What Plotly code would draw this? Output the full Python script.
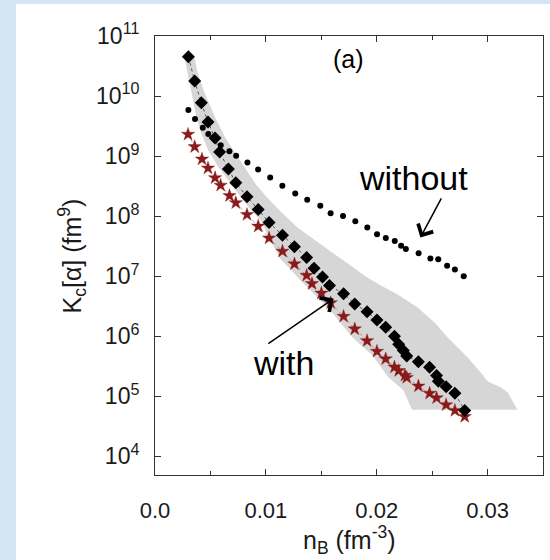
import plotly.graph_objects as go

# ---- data ----
nb_with = [0.00301, 0.00358, 0.00418, 0.00478, 0.00542, 0.00583, 0.00662, 0.00729, 0.0083, 0.00931,
           0.01029, 0.0115, 0.01258, 0.01368, 0.01435, 0.01511, 0.01574, 0.01701, 0.01802, 0.01913,
           0.02002, 0.02081, 0.0216, 0.02198, 0.0224, 0.02271, 0.02376, 0.02477, 0.0254, 0.02556,
           0.02626, 0.02705, 0.02794]
k_with = [4.5e10, 1.78e10, 7.7e9, 3.7e9, 2.0e9, 1.17e9, 6.1e8, 3.6e8, 2.1e8, 1.29e8,
          7.85e7, 4.8e7, 3.1e7, 2.05e7, 1.36e7, 9.7e6, 7.0e6, 5.1e6, 3.45e6, 2.55e6,
          1.87e6, 1.42e6, 1.0e6, 7.4e5, 5.8e5, 4.7e5, 3.76e5, 3.06e5, 2.23e5, 1.79e5,
          1.44e5, 1.12e5, 5.8e4]

nb_star = [0.00298, 0.00358, 0.00424, 0.00478, 0.00542, 0.00592, 0.00672, 0.00729, 0.0083, 0.00931,
           0.01029, 0.0115, 0.01258, 0.01368, 0.01416, 0.01501, 0.01585, 0.01701, 0.01802, 0.01913,
           0.02002, 0.02081, 0.0216, 0.02198, 0.02255, 0.02271, 0.02376, 0.02477, 0.0254, 0.02626,
           0.02705, 0.02794]
k_star = [2.3e9, 1.43e9, 8.9e8, 6.3e8, 4.35e8, 3.26e8, 2.19e8, 1.67e8, 1.06e8, 6.8e7,
          4.3e7, 2.6e7, 1.6e7, 1.03e7, 7.5e6, 5.2e6, 3.6e6, 2.14e6, 1.32e6, 8.4e5,
          5.6e5, 4.2e5, 3.06e5, 2.67e5, 2.23e5, 2.05e5, 1.48e5, 1.12e5, 9.4e4, 7.2e4,
          5.8e4, 4.6e4]

nb_without = [0.00301, 0.00361, 0.00431, 0.00481, 0.00542, 0.00593, 0.00671, 0.00732, 0.00834, 0.0093,
              0.01039, 0.01149, 0.01265, 0.01373, 0.01491, 0.01584, 0.01696, 0.01807, 0.01915, 0.02003,
              0.02082, 0.02163, 0.0222, 0.02263, 0.02378, 0.02484, 0.02555, 0.02635, 0.02705, 0.02785]
k_without = [5.85e9, 4.14e9, 2.96e9, 2.33e9, 1.85e9, 1.52e9, 1.21e9, 1.01e9, 7.85e8, 6.0e8,
             4.4e8, 3.2e8, 2.39e8, 1.87e8, 1.49e8, 1.12e8, 1.01e8, 8.2e7, 6.5e7, 4.98e7,
             4.34e7, 3.86e7, 3.22e7, 2.84e7, 2.42e7, 1.97e7, 1.92e7, 1.5e7, 1.3e7, 1.0e7]

# uncertainty band: upper edge (left to right) then lower edge (right to left)
band_x = [0.00262, 0.00352, 0.00385, 0.00455, 0.00545, 0.00635, 0.00735, 0.00825, 0.00915, 0.01015,
          0.01138, 0.01283, 0.01418, 0.01581, 0.01762, 0.01897, 0.02033, 0.02186, 0.02367, 0.02529,
          0.02638, 0.02728, 0.02827, 0.02936, 0.02999, 0.03117, 0.0318, 0.0327,
          0.02319, 0.0224, 0.02105, 0.0196, 0.0178, 0.01581, 0.0134, 0.01129, 0.01003, 0.00967,
          0.00867, 0.00768, 0.00659, 0.0056, 0.00479, 0.00416, 0.0037, 0.00334, 0.00298, 0.00262]
band_k = [4.82e10, 4.82e10, 2.42e10, 1.04e10, 4.3e9, 2.0e9, 1.04e9, 5.85e8, 3.29e8, 2.0e8,
          1.17e8, 6.56e7, 4.3e7, 2.61e7, 1.52e7, 1.0e7, 7.08e6, 5.0e6, 3.04e6, 1.65e6,
          9.6e5, 6.56e5, 4.3e5, 2.51e5, 1.78e5, 1.41e5, 1.17e5, 6.0e4,
          6.0e4, 1.26e5, 2.07e5, 4.82e5, 9.6e5, 2.71e6, 7.55e6, 1.97e7, 5.41e7, 7.94e7,
          1.26e8, 2.15e8, 3.98e8, 7.08e8, 1.26e9, 2.42e9, 4.82e9, 1.04e10, 2.24e10, 4.82e10]

x_tickvals = [0.0, 0.01, 0.02, 0.03]
x_ticktext = ["0.0", "0.01", "0.02", "0.03"]
x_minor = [0.005, 0.015, 0.025]
y_tickvals = [1e4, 1e5, 1e6, 1e7, 1e8, 1e9, 1e10, 1e11]
y_ticktext = ["10<sup>4</sup>", "10<sup>5</sup>", "10<sup>6</sup>", "10<sup>7</sup>",
              "10<sup>8</sup>", "10<sup>9</sup>", "10<sup>10</sup>", "10<sup>11</sup>"]

FONT = "Liberation Sans, Arial, sans-serif"
INK = "#1a1a1a"

fig = go.Figure()
fig.add_trace(go.Scatter(x=band_x, y=band_k, mode="lines", fill="toself",
                         fillcolor="#d6d6d6", line=dict(width=0), hoverinfo="skip"))
fig.add_trace(go.Scatter(x=nb_without, y=k_without, mode="markers",
                         marker=dict(symbol="circle", size=6, color="black")))
fig.add_trace(go.Scatter(x=nb_star, y=k_star, mode="lines+markers",
                         line=dict(color="#c07070", width=0.7, dash="dot"),
                         marker=dict(symbol="star", size=10, color="#8a1a1a",
                                     line=dict(width=0.4, color="#8a1a1a"))))
fig.add_trace(go.Scatter(x=nb_with, y=k_with, mode="lines+markers",
                         line=dict(color="#555555", width=1, dash="dot"),
                         marker=dict(symbol="diamond", size=10, color="black")))

# white panel over the bluish page
fig.add_shape(type="rect", xref="paper", yref="paper", x0=-0.3582, x1=1.02, y0=-0.1936, y1=1.0729,
              fillcolor="white", line=dict(width=0), layer="below")

ann_font = dict(family=FONT, size=34, color="black")
fig.add_annotation(x=0.01747, y=10.625, text="(a)", showarrow=False,
                   font=dict(family=FONT, size=25, color="black"))
fig.add_annotation(x=0.02334, y=8.628, text="without", showarrow=False, font=ann_font)
fig.add_annotation(x=0.01156, y=5.55, text="with", showarrow=False, font=ann_font)
fig.add_annotation(x=0.02394, y=7.645, ax=0.0259, ay=8.322, axref="x", ayref="y", text="",
                   showarrow=True, arrowhead=4, arrowsize=2.2, arrowwidth=1.5, arrowcolor="black")
fig.add_annotation(x=0.01611, y=6.628, ax=0.01009, ay=5.862, axref="x", ayref="y", text="",
                   showarrow=True, arrowhead=4, arrowsize=2.2, arrowwidth=1.5, arrowcolor="black")

# axis titles
fig.add_annotation(xref="paper", yref="paper", x=0.5, y=-0.148, yanchor="middle",
                   text="n<sub>B</sub> (fm<sup>-3</sup>)", showarrow=False,
                   font=dict(family=FONT, size=25, color=INK))
fig.add_annotation(xref="paper", yref="paper", x=-0.214, y=0.5, xanchor="center", textangle=-90,
                   text="K<sub>c</sub>[α] (fm<sup>9</sup>)", showarrow=False,
                   font=dict(family=FONT, size=25, color=INK))

fig.update_layout(
    width=550, height=560,
    margin=dict(l=155, r=7, t=36, b=85),
    paper_bgcolor="#d5e5f4", plot_bgcolor="white",
    showlegend=False,
    font=dict(family=FONT, color=INK),
)
fig.update_xaxes(range=[0, 0.035], showline=True, linecolor="#333333", linewidth=1, mirror="ticks",
                 ticks="inside", ticklen=6, tickcolor="#333333", showgrid=False, zeroline=False,
                 tickvals=x_tickvals, ticktext=x_ticktext, tickfont=dict(size=22, color=INK),
                 ticklabelstandoff=16,
                 minor=dict(tickvals=x_minor, ticks="inside", ticklen=4, tickcolor="#333333"))
fig.update_yaxes(type="log", range=[3.69, 11], showline=True, linecolor="#333333", linewidth=1,
                 mirror="ticks", ticks="inside", ticklen=6, tickcolor="#333333", showgrid=False,
                 zeroline=False, tickvals=y_tickvals, ticktext=y_ticktext,
                 tickfont=dict(size=23, color=INK), ticklabelstandoff=10)

fig.write_html("out.html")
